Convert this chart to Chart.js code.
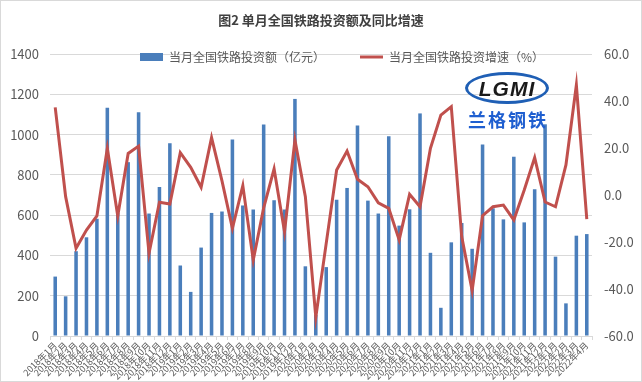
<!DOCTYPE html>
<html>
<head>
<meta charset="utf-8">
<script src="https://cdn.jsdelivr.net/npm/chart.js@4.4.1/dist/chart.umd.min.js"></script>
<style>
  html, body { margin: 0; padding: 0; background: #fff; }
  #wrap { position: relative; width: 642px; height: 382px; }
  #frame { position: absolute; left: 0; top: 0; width: 640px; height: 380px; border: 1px solid #d9d9d9; pointer-events: none; }
  #logo-ring { position: absolute; left: 465px; top: 72px; width: 78px; height: 26px; border: 3px solid #1f5fb5; border-radius: 50%;
    font: italic bold 21px 'Liberation Sans', sans-serif; color: #1a1a1a; text-align: center; line-height: 27px; letter-spacing: 1px; }
  #logo-cn { position: absolute; left: 468px; top: 106px; font: bold 18px 'Noto Sans CJK SC', sans-serif; color: #1f5fd0; letter-spacing: 2px; }
</style>
</head>
<body>
<div id="wrap">
  <canvas id="c" width="642" height="382"></canvas>
  <div id="logo-ring">LGMI</div>
  <div id="logo-cn">兰格钢铁</div>
  <div id="frame"></div>
</div>
<script>
// months 2018年1月 - 2022年4月
const months = [];
for (let y = 2018; y <= 2022; y++) {
  for (let m = 1; m <= 12; m++) {
    if (y === 2022 && m > 4) break;
    months.push(y + '年' + m + '月');
  }
}

// 当月全国铁路投资额（亿元）
const invest = [
  295, 197, 421, 490, 582, 1133, 610, 863, 1111, 608, 740, 957,
  350, 219, 439, 611, 618, 975, 648, 628, 1050, 674, 628, 1177,
  346, 105, 342, 677, 735, 1045, 672, 608, 992, 548, 629, 1105,
  413, 140, 465, 561, 433, 951, 634, 579, 890, 564, 728, 1051,
  394, 162, 498, 506
];

// 当月全国铁路投资增速（%）
const growth = [
  37.3, -0.7, -22.7, -14.9, -8.9, 19.9, -8.9, 17.7, 20.8, -24.8, -3.1, -3.8,
  18.0, 11.8, 3.3, 24.4, 6.0, -14.2, 4.0, -27.7, -5.5, 11.1, -15.6, 23.4,
  -0.7, -52.0, -20.6, 10.6, 18.7, 6.7, 3.5, -3.3, -5.7, -19.1, 0.3, -5.0,
  19.9, 34.0, 37.6, -17.7, -40.7, -8.8, -5.0, -4.3, -10.6, 2.1, 15.9, -3.0,
  -5.0, 12.8, 46.8, -10.3
];

const leftTicks = { min: 0, max: 1400, step: 200 };
const rightTicks = { min: -60, max: 60, step: 20 };

const gray = '#595959';
const gridColor = '#d9d9d9';
const barColor = '#4a7ebb';
const lineColor = '#c0504d';
Chart.defaults.font.family = "'Noto Sans CJK SC', 'Liberation Sans', sans-serif";
Chart.defaults.color = gray;

// legend sits inside the plot, slightly right of centre
const legendPlace = {
  id: 'legendPlace',
  afterLayout(chart) {
    const lg = chart.legend;
    const w = lg.right - lg.left;
    lg.left = 342 - w / 2;
    lg.right = lg.left + w;
    lg.top = 57 - 35 - 6;
    lg.bottom = lg.top + 70;
  }
};

new Chart(document.getElementById('c'), {
  data: {
    labels: months,
    datasets: [{
      type: 'bar',
      label: '当月全国铁路投资额（亿元）',
      data: invest,
      backgroundColor: barColor,
      borderWidth: 0,
      barPercentage: 0.34,
      categoryPercentage: 1,
      yAxisID: 'y',
      order: 2
    }, {
      type: 'line',
      label: '当月全国铁路投资增速（%）',
      data: growth,
      borderColor: lineColor,
      borderWidth: 3,
      pointRadius: 0,
      tension: 0,
      yAxisID: 'y1',
      order: 1
    }]
  },
  options: {
    responsive: false,
    animation: false,
    devicePixelRatio: 1,
    layout: { padding: 0 },
    plugins: {
      title: {
        display: true,
        text: '图2 单月全国铁路投资额及同比增速',
        color: '#404040',
        font: { size: 13, weight: 'bold' },
        padding: { top: 12, bottom: 6.4 }
      },
      legend: {
        position: 'top',
        maxHeight: 20,
        labels: {
          usePointStyle: true,
          pointStyleWidth: 23,
          boxHeight: 8,
          padding: 35,
          color: gray,
          font: { size: 12 },
          sort: (a, b) => a.datasetIndex - b.datasetIndex,
          generateLabels(chart) {
            const items = Chart.defaults.plugins.legend.labels.generateLabels(chart);
            items.forEach(it => {
              if (it.datasetIndex === 0) {
                it.pointStyle = 'rect';
                it.fillStyle = barColor;
                it.lineWidth = 0;
              } else {
                it.pointStyle = 'line';
                it.strokeStyle = lineColor;
                it.lineWidth = 3;
              }
            });
            return items;
          }
        }
      },
      tooltip: { enabled: false }
    },
    scales: {
      x: {
        grid: { display: true, drawOnChartArea: false, drawTicks: true, tickLength: 4, color: gridColor, offset: true },
        border: { color: gridColor },
        ticks: { autoSkip: false, maxRotation: 45, minRotation: 45, padding: 0, font: { size: 9 }, color: gray },
        afterFit(s) { s.height = 46; }
      },
      y: {
        position: 'left',
        min: leftTicks.min, max: leftTicks.max,
        ticks: { stepSize: leftTicks.step, padding: 11, font: { size: 13 }, color: gray, callback: v => String(v) },
        grid: { color: gridColor, drawTicks: false },
        border: { display: false },
        afterFit(s) { s.width = 50; }
      },
      y1: {
        position: 'right',
        min: rightTicks.min, max: rightTicks.max,
        ticks: { stepSize: rightTicks.step, padding: 12, font: { size: 13 }, color: gray, callback: v => v.toFixed(1) },
        grid: { drawOnChartArea: false, drawTicks: false },
        border: { display: false },
        afterFit(s) { s.width = 50; }
      }
    }
  },
  plugins: [legendPlace]
});
</script>
</body>
</html>
